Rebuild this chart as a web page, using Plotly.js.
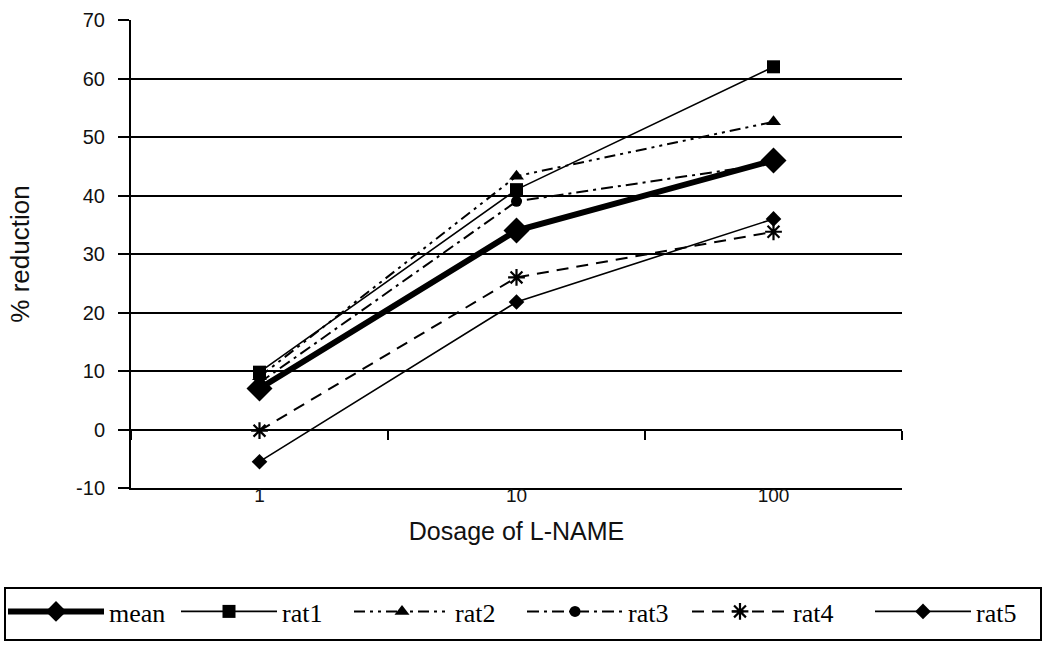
<!DOCTYPE html>
<html>
<head>
<meta charset="utf-8">
<script src="https://cdn.plot.ly/plotly-3.0.1.min.js"></script>
<style>
  html, body { margin: 0; padding: 0; background: #fff; }
  #chart { width: 1045px; height: 646px; }
</style>
</head>
<body>
<div id="chart"></div>
<script>
// L-NAME dose groups (category axis)
const doses = ['1', '10', '100'];

// % reduction per dose
const meanVals = [7, 34, 46];
const rat1Vals = [9.8, 41, 62];
const rat2Vals = [9, 43.3, 52.6];
const rat3Vals = [8, 39, 45.5];
const rat4Vals = [-0.2, 26, 33.8];
const rat5Vals = [-5.5, 21.8, 36];

// y scale and its labels (plain hyphen for negatives)
const yMin = -10;
const yMax = 70;
const yTickVals = [-10, 0, 10, 20, 30, 40, 50, 60, 70];
const yTickText = ['-10', '0', '10', '20', '30', '40', '50', '60', '70'];

const black = '#000';
const W = 1045, H = 646;
const M = { l: 131, r: 143, t: 20, b: 158 };
const plotW = W - M.l - M.r;
const plotH = H - M.t - M.b;

// figure pixel -> paper / container fractions
const paperX = px => (px - M.l) / plotW;
const paperY = py => (H - M.b - py) / plotH;
const boxX = px => px / W;
const boxY = py => 1 - py / H;

function series(name, vals, lineStyle, markerStyle, rank, opts) {
  return Object.assign({
    type: 'scatter',
    mode: 'lines+markers',
    name: name,
    x: doses,
    y: vals,
    line: Object.assign({ color: black }, lineStyle),
    marker: Object.assign({ color: black }, markerStyle),
    legendrank: rank,
    hoverinfo: 'x+y+name'
  }, opts || {});
}

const traces = [
  series('rat1', rat1Vals, { width: 1.6 }, { symbol: 'square', size: 13 }, 2),
  series('rat2', rat2Vals, { width: 2, dash: '11px,5px,3px,5px,3px,5px' }, { symbol: 'triangle-up', size: 13 }, 3),
  series('rat3', rat3Vals, { width: 2, dash: '12px,5px,3px,5px' }, { symbol: 'circle', size: 11 }, 4),
  series('rat4', rat4Vals, { width: 2, dash: '12px,8px' },
         { symbol: 'asterisk-open', size: 14, line: { color: black, width: 2.2 } }, 5, { legend: 'legend2' }),
  series('rat5', rat5Vals, { width: 1.6 }, { symbol: 'diamond', size: 12 }, 6, { legend: 'legend2' }),
  // mean drawn last so the heavy line sits on top
  series('mean', meanVals, { width: 6 }, { symbol: 'diamond', size: 20 }, 1, { xaxis: 'x2' })
];

const sans = 'Liberation Sans, Arial, sans-serif';

// one legend row, laid out as two groups sharing a single frame
const legendRow = {
  orientation: 'h',
  xref: 'container',
  yref: 'container',
  xanchor: 'left',
  y: boxY(588),
  yanchor: 'top',
  bgcolor: 'rgba(0,0,0,0)',
  borderwidth: 0,
  itemwidth: 96,
  entrywidth: 62,
  traceorder: 'normal',
  font: { family: 'Liberation Serif, Times New Roman, serif', size: 26, color: '#000' }
};

const layout = {
  width: W,
  height: H,
  margin: M,
  paper_bgcolor: '#fff',
  plot_bgcolor: '#fff',
  showlegend: true,
  xaxis: {
    type: 'category',
    categoryorder: 'array',
    categoryarray: doses,
    range: [-0.5, doses.length - 0.5],
    showgrid: false,
    zeroline: false,
    showline: true,
    linecolor: black,
    linewidth: 2,
    ticks: '',
    ticklabelstandoff: -11,
    tickfont: { family: sans, size: 19, color: '#111' },
    title: {
      text: 'Dosage of L-NAME',
      font: { family: sans, size: 25, color: '#111' },
      standoff: 18
    },
    automargin: false,
    fixedrange: true
  },
  // axis line crossing at y = 0 with tick marks between dose groups
  xaxis2: {
    type: 'category',
    categoryorder: 'array',
    categoryarray: doses,
    range: [-0.5, doses.length - 0.5],
    overlaying: 'x',
    anchor: 'free',
    position: (0 - yMin) / (yMax - yMin),
    showgrid: false,
    zeroline: false,
    showline: true,
    linecolor: black,
    linewidth: 2,
    ticks: 'outside',
    tickson: 'boundaries',
    ticklen: 9,
    tickwidth: 2,
    tickcolor: black,
    showticklabels: false,
    fixedrange: true
  },
  yaxis: {
    range: [yMin, yMax],
    tickmode: 'array',
    tickvals: yTickVals,
    ticktext: yTickText,
    showgrid: true,
    gridcolor: black,
    gridwidth: 2,
    zeroline: false,
    showline: true,
    linecolor: black,
    linewidth: 2,
    ticks: 'outside',
    ticklen: 11,
    tickwidth: 2,
    tickcolor: black,
    ticklabelstandoff: 9,
    tickfont: { family: sans, size: 20, color: '#111' },
    title: {
      text: '% reduction',
      font: { family: sans, size: 26, color: '#111' },
      standoff: 39
    },
    automargin: false,
    fixedrange: true
  },
  legend: Object.assign({}, legendRow, { x: boxX(3) }),
  legend2: Object.assign({}, legendRow, { x: boxX(687), entrywidth: 72 }),
  // frame around the legend row
  shapes: [{
    type: 'rect',
    xref: 'paper', yref: 'paper',
    x0: paperX(5), x1: paperX(1041),
    y0: paperY(640), y1: paperY(588),
    line: { color: black, width: 2 },
    fillcolor: 'rgba(0,0,0,0)',
    layer: 'above'
  }]
};

Plotly.newPlot('chart', traces, layout, { staticPlot: true, displayModeBar: false });
</script>
</body>
</html>
